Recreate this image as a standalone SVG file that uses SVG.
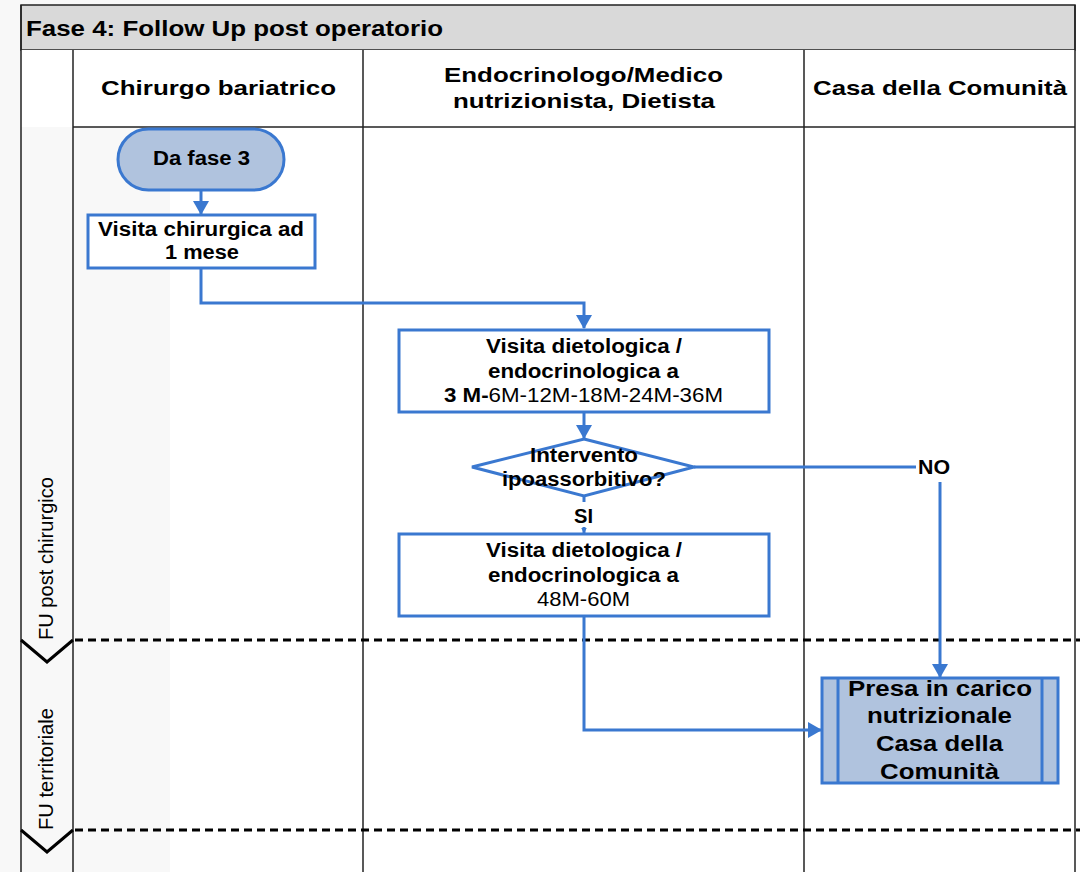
<svg xmlns="http://www.w3.org/2000/svg" width="1087" height="872" viewBox="0 0 1087 872">
<defs>
<style>
.t{font-family:"Liberation Sans",Arial,sans-serif;fill:#000}
.ti{font-size:22px;font-weight:bold}
.hd{font-size:21px;font-weight:bold}
.pr{font-size:22px;font-weight:bold}
.nd{font-size:20px;font-weight:bold}
.nr{font-size:20px;font-weight:normal}
.ph{font-size:20px}
.grid{stroke:#222;stroke-width:1.5;fill:none}
.dash{stroke:#000;stroke-width:3;stroke-dasharray:8 5;fill:none}
.chev{stroke:#000;stroke-width:3;fill:none}
.box{fill:#fff;stroke:#3a78d0;stroke-width:3}
.fbox{fill:#b0c3de;stroke:#3a78d0;stroke-width:3}
.con{stroke:#3a78d0;stroke-width:3;fill:none}
</style>
<marker id="ah" viewBox="0 0 14 16" refX="13" refY="8" markerWidth="14" markerHeight="16" markerUnits="userSpaceOnUse" orient="auto">
<path d="M0,0 L14,8 L0,16 Z" fill="#3a78d0"/>
</marker>
<marker id="ahs" viewBox="0 0 12 12" refX="11" refY="6" markerWidth="6" markerHeight="6" markerUnits="userSpaceOnUse" orient="auto">
<path d="M0,0 L12,6 L0,12 Z" fill="#3a78d0"/>
</marker>
</defs>
<rect x="0" y="0" width="1087" height="872" fill="#fff"/>
<rect x="0" y="0" width="170" height="872" fill="#f8f8f8"/>
<g id="frame">
<rect x="21" y="5" width="1054" height="45" fill="#d9d9d9" stroke="#222" stroke-width="1.5"/>
<text class="t ti" x="26" y="36" textLength="417" lengthAdjust="spacingAndGlyphs">Fase 4: Follow Up post operatorio</text>
<rect x="21" y="50" width="1054" height="77" fill="#fff"/>
<line class="grid" x1="21" y1="5" x2="21" y2="872"/>
<line class="grid" x1="73" y1="50" x2="73" y2="872"/>
<line class="grid" x1="363" y1="50" x2="363" y2="872"/>
<line class="grid" x1="804" y1="50" x2="804" y2="872"/>
<line class="grid" x1="1075" y1="5" x2="1075" y2="872"/>
<line class="grid" x1="73" y1="127" x2="1075" y2="127"/>
<text class="t hd" x="101" y="95" textLength="235" lengthAdjust="spacingAndGlyphs">Chirurgo bariatrico</text>
<text class="t hd" x="444" y="82" textLength="279" lengthAdjust="spacingAndGlyphs">Endocrinologo/Medico</text>
<text class="t hd" x="453" y="108" textLength="262" lengthAdjust="spacingAndGlyphs">nutrizionista, Dietista</text>
<text class="t hd" x="813" y="95" textLength="254" lengthAdjust="spacingAndGlyphs">Casa della Comunità</text>
</g>
<g id="phases">
<line class="dash" x1="75" y1="640" x2="1080" y2="640"/>
<line class="dash" x1="75" y1="830" x2="1080" y2="830"/>
<polyline class="chev" points="21,640 47,662 73,640"/>
<polyline class="chev" points="21,830 47,852 73,830"/>
<text class="t ph" transform="translate(53,640) rotate(-90)" textLength="163" lengthAdjust="spacingAndGlyphs">FU post chirurgico</text>
<text class="t ph" transform="translate(53,830) rotate(-90)" textLength="122" lengthAdjust="spacingAndGlyphs">FU territoriale</text>
</g>
<g id="connectors">
<line class="con" x1="201" y1="190" x2="201" y2="214" marker-end="url(#ah)"/>
<polyline class="con" points="201,268 201,303 584,303 584,328" marker-end="url(#ah)"/>
<line class="con" x1="584" y1="412" x2="584" y2="438" marker-end="url(#ah)"/>
<line class="con" x1="694" y1="467" x2="916" y2="467"/>
<line class="con" x1="940" y1="482" x2="940" y2="677" marker-end="url(#ah)"/>
<line class="con" x1="584" y1="496" x2="584" y2="502"/>
<line class="con" x1="584" y1="527" x2="584" y2="533" marker-end="url(#ahs)"/>
<polyline class="con" points="584,616 584,730 821,730" marker-end="url(#ah)"/>
<text class="t nd" x="918" y="474" textLength="32" lengthAdjust="spacingAndGlyphs">NO</text>
<text class="t nd" x="574" y="523" textLength="19" lengthAdjust="spacingAndGlyphs">SI</text>
</g>
<g id="n-da-fase-3">
<rect class="fbox" x="118" y="129" width="166" height="61" rx="30.5"/>
<text class="t nd" x="153" y="165" textLength="97" lengthAdjust="spacingAndGlyphs">Da fase 3</text>
</g>
<g id="n-visita-chir">
<rect class="box" x="88" y="215" width="227" height="53"/>
<text class="t nd" x="98" y="236" textLength="206" lengthAdjust="spacingAndGlyphs">Visita chirurgica ad</text>
<text class="t nd" x="165" y="259" textLength="74" lengthAdjust="spacingAndGlyphs">1 mese</text>
</g>
<g id="n-visita-diet1">
<rect class="box" x="399" y="330" width="370" height="82"/>
<text class="t nd" x="486" y="353" textLength="196" lengthAdjust="spacingAndGlyphs">Visita dietologica /</text>
<text class="t nd" x="488" y="378" textLength="191" lengthAdjust="spacingAndGlyphs">endocrinologica a</text>
<text class="t nr" x="444" y="402" textLength="279" lengthAdjust="spacingAndGlyphs"><tspan font-weight="bold">3 M-</tspan>6M-12M-18M-24M-36M</text>
</g>
<g id="n-decision">
<polygon class="box" points="584,439 694,467 584,496 472,467"/>
<text class="t nd" x="530" y="462" textLength="108" lengthAdjust="spacingAndGlyphs">Intervento</text>
<text class="t nd" x="502" y="486" textLength="164" lengthAdjust="spacingAndGlyphs">ipoassorbitivo?</text>
</g>
<g id="n-visita-diet2">
<rect class="box" x="399" y="534" width="370" height="82"/>
<text class="t nd" x="486" y="557" textLength="196" lengthAdjust="spacingAndGlyphs">Visita dietologica /</text>
<text class="t nd" x="488" y="582" textLength="191" lengthAdjust="spacingAndGlyphs">endocrinologica a</text>
<text class="t nr" x="537" y="606" textLength="93" lengthAdjust="spacingAndGlyphs">48M-60M</text>
</g>
<g id="n-presa-in-carico">
<rect class="fbox" x="822" y="678" width="236" height="105"/>
<line class="con" x1="838" y1="678" x2="838" y2="783"/>
<line class="con" x1="1042" y1="678" x2="1042" y2="783"/>
<text class="t pr" x="848" y="696" textLength="184" lengthAdjust="spacingAndGlyphs">Presa in carico</text>
<text class="t pr" x="867" y="723" textLength="145" lengthAdjust="spacingAndGlyphs">nutrizionale</text>
<text class="t pr" x="876" y="751" textLength="127" lengthAdjust="spacingAndGlyphs">Casa della</text>
<text class="t pr" x="880" y="779" textLength="119" lengthAdjust="spacingAndGlyphs">Comunità</text>
</g>
</svg>
